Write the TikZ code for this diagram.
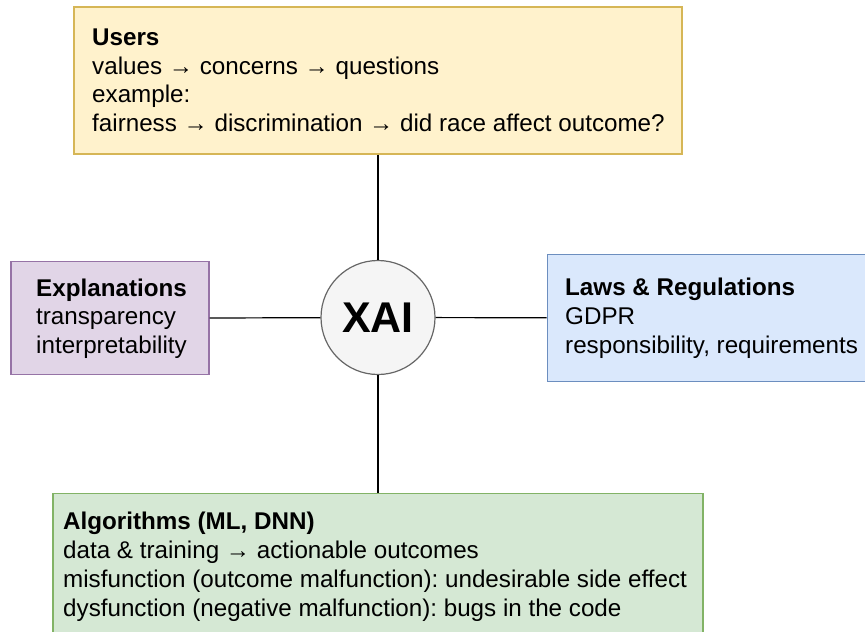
\documentclass[tikz,border=0pt]{standalone}
\usepackage{fontspec}
\setmainfont{Liberation Sans}
\usepackage{tikz}
\usetikzlibrary{shapes,positioning}
\definecolor{usersfill}{HTML}{FFF2CC}
\definecolor{usersline}{HTML}{D6B656}
\definecolor{explfill}{HTML}{E1D5E7}
\definecolor{explline}{HTML}{9673A6}
\definecolor{lawsfill}{HTML}{DAE8FC}
\definecolor{lawsline}{HTML}{6C8EBF}
\definecolor{algofill}{HTML}{D5E8D4}
\definecolor{algoline}{HTML}{82B366}
\definecolor{xaifill}{HTML}{F5F5F5}
\definecolor{xailine}{HTML}{666666}
\frenchspacing
\newcommand{\topic}[7]{
  % box
  \node[topicbox=#2, minimum width=#4, minimum height=#5] (#1) at (#3) {};

  % text
  \node[topictext] (#1-text) at (#6) {#7};
}

\begin{document}
\begin{tikzpicture}[x=1pt,y=-1pt,
  topicbox/.style={draw=#1line, fill=#1fill, line width=1.2pt, inner sep=0},
  topictext/.style={anchor=north west, align=left, inner sep=0,
    font=\fontsize{24.2}{28.8}\selectfont},
  link/.style={draw=black, line width=1.2pt}]
\useasboundingbox (0,0) rectangle (865,632);
\clip (0,0) rectangle (865,632);

\topic{users}{users}{378,80.5}{608}{147}{92,28.4}
      {\textbf{Users}\\
       values → concerns → questions\\
       example:\\
       fairness → discrimination → did race affect outcome?}

\topic{expl}{expl}{110,318.3}{198}{113}{36,278.4}
      {\textbf{Explanations}\\
       transparency\\
       interpretability}

\topic{laws}{laws}{712.3,318}{330}{127.4}{565,277.7}
      {\textbf{Laws \& Regulations}\\
       GDPR\\
       responsibility, requirements}

\topic{algo}{algo}{378,573.3}{650}{160}{63,512}
      {\textbf{Algorithms (ML, DNN)}\\
       data \& training → actionable outcomes\\
       misfunction (outcome malfunction): undesirable side effect\\
       dysfunction (negative malfunction): bugs in the code}

% centre
\node[circle, draw=xailine, fill=xaifill, line width=1.2pt, minimum size=114,
      font=\fontsize{43}{48}\selectfont\bfseries] (xai) at (378,317.5) {XAI};

\draw[link] (users) -- (xai);
\draw[link] (expl) -- (xai);
\draw[link] (laws) -- (xai);
\draw[link] (algo) -- (xai);
\end{tikzpicture}
\end{document}
